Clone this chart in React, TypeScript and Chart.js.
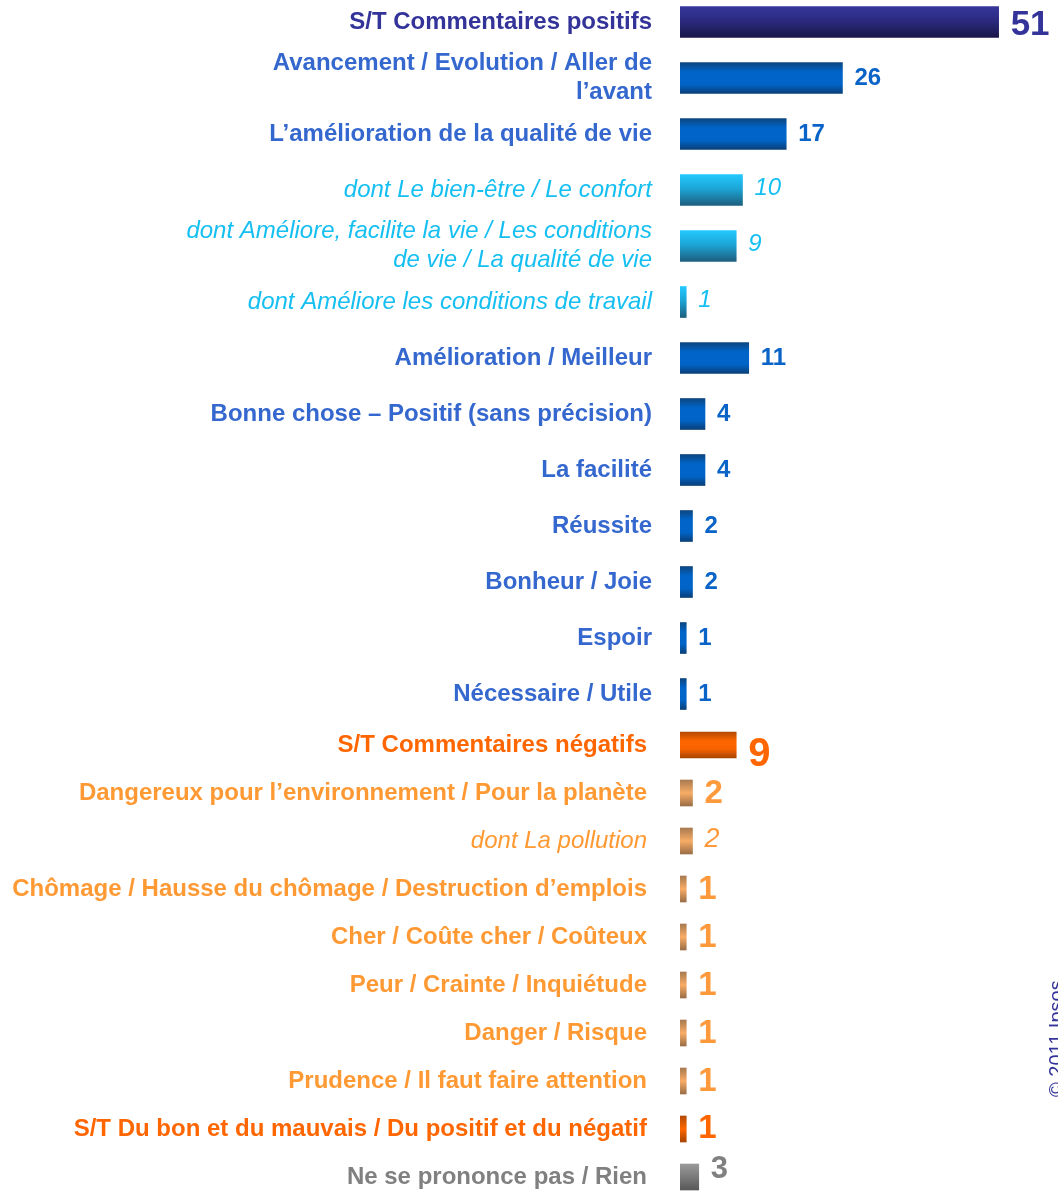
import React, { useEffect, useRef } from "react";
import { Chart, registerables } from "chart.js";

Chart.register(...registerables);

const FONT = '"Liberation Sans", Arial, Helvetica, sans-serif';

// ---- data ----
const posCategories = [
  "S/T Commentaires positifs",
  "Avancement / Evolution / Aller de\nl’avant",
  "L’amélioration de la qualité de vie",
  "dont Le bien-être / Le confort",
  "dont Améliore, facilite la vie / Les conditions\nde vie / La qualité de vie",
  "dont Améliore les conditions de travail",
  "Amélioration / Meilleur",
  "Bonne chose – Positif (sans précision)",
  "La facilité",
  "Réussite",
  "Bonheur / Joie",
  "Espoir",
  "Nécessaire / Utile",
];
const posValues = [51, 26, 17, 10, 9, 1, 11, 4, 4, 2, 2, 1, 1];
const posKinds = ["total", "main", "main", "sub", "sub", "sub", "main", "main", "main", "main", "main", "main", "main"];

const negCategories = [
  "S/T Commentaires négatifs",
  "Dangereux pour l’environnement / Pour la planète",
  "dont La pollution",
  "Chômage / Hausse du chômage / Destruction d’emplois",
  "Cher / Coûte cher / Coûteux",
  "Peur / Crainte / Inquiétude",
  "Danger / Risque",
  "Prudence / Il faut faire attention",
  "S/T Du bon et du mauvais / Du positif et du négatif",
  "Ne se prononce pas / Rien",
];
const negValues = [9, 2, 2, 1, 1, 1, 1, 1, 1, 3];
const negKinds = ["negTotal", "neg", "negSub", "neg", "neg", "neg", "neg", "neg", "mixed", "none"];

const X_MAX = 60.5;
const COPYRIGHT = "© 2011 Ipsos";

// ---- styles ----
type KindStyle = {
  labelColor: string;
  labelBold: boolean;
  labelItalic: boolean;
  valueColor: string;
  valueSize: number;
  valueBold: boolean;
  valueItalic: boolean;
  valueDy: number;
  stops: [number, string][];
};

const STYLES: Record<string, KindStyle> = {
  total: {
    labelColor: "#333399", labelBold: true, labelItalic: false,
    valueColor: "#333399", valueSize: 35, valueBold: true, valueItalic: false, valueDy: 3,
    stops: [[0, "#36369c"], [0.45, "#2b2a80"], [1, "#1a1848"]],
  },
  main: {
    labelColor: "#3568cf", labelBold: true, labelItalic: false,
    valueColor: "#0a64c8", valueSize: 24, valueBold: true, valueItalic: false, valueDy: 0,
    stops: [[0, "#0d4680"], [0.3, "#0064c8"], [0.7, "#0064c8"], [1, "#0a3f78"]],
  },
  sub: {
    labelColor: "#15bff2", labelBold: false, labelItalic: true,
    valueColor: "#15bff2", valueSize: 24, valueBold: false, valueItalic: true, valueDy: -2,
    stops: [[0, "#24c8ff"], [0.45, "#1ca6d6"], [1, "#1d5f7e"]],
  },
  negTotal: {
    labelColor: "#ff6600", labelBold: true, labelItalic: false,
    valueColor: "#ff6600", valueSize: 40, valueBold: true, valueItalic: false, valueDy: 10,
    stops: [[0, "#b34a00"], [0.35, "#ff6600"], [0.65, "#f86300"], [1, "#a84400"]],
  },
  neg: {
    labelColor: "#ff9933", labelBold: true, labelItalic: false,
    valueColor: "#ff9a3c", valueSize: 33, valueBold: true, valueItalic: false, valueDy: 1,
    stops: [[0, "#a87a50"], [0.5, "#f8ac66"], [1, "#9a6e46"]],
  },
  negSub: {
    labelColor: "#ff9933", labelBold: false, labelItalic: true,
    valueColor: "#ff9a3c", valueSize: 27, valueBold: false, valueItalic: true, valueDy: -2,
    stops: [[0, "#a87a50"], [0.5, "#f8ac66"], [1, "#9a6e46"]],
  },
  mixed: {
    labelColor: "#ff6600", labelBold: true, labelItalic: false,
    valueColor: "#ff6600", valueSize: 33, valueBold: true, valueItalic: false, valueDy: 0,
    stops: [[0, "#b34a00"], [0.5, "#ff6600"], [1, "#a84400"]],
  },
  none: {
    labelColor: "#808080", labelBold: true, labelItalic: false,
    valueColor: "#808080", valueSize: 31, valueBold: true, valueItalic: false, valueDy: -8,
    stops: [[0, "#9a9a9a"], [0.5, "#7a7a7a"], [1, "#585858"]],
  },
};

function makeGradientFn(kinds: string[], thickness: number) {
  return (c: any) => {
    const chart = c.chart;
    const ys = chart.scales && chart.scales.y;
    if (c.dataIndex == null || !ys) return "#0064c8";
    const st = STYLES[kinds[c.dataIndex]];
    const mid = ys.getPixelForValue(c.dataIndex);
    if (!isFinite(mid)) return st.stops[1][1];
    const g = chart.ctx.createLinearGradient(0, mid - thickness / 2, 0, mid + thickness / 2);
    st.stops.forEach(([o, col]) => g.addColorStop(o, col));
    return g;
  };
}

function valueLabelPlugin(values: number[], kinds: string[]) {
  return {
    id: "valueLabels",
    afterDatasetsDraw(chart: any) {
      const ctx = chart.ctx;
      const meta = chart.getDatasetMeta(0);
      ctx.save();
      ctx.textAlign = "left";
      ctx.textBaseline = "middle";
      meta.data.forEach((bar: any, i: number) => {
        const st = STYLES[kinds[i]];
        ctx.font = `${st.valueItalic ? "italic " : ""}${st.valueBold ? "bold " : ""}${st.valueSize}px ${FONT}`;
        ctx.fillStyle = st.valueColor;
        ctx.fillText(String(values[i]), bar.x + 12, bar.y + st.valueDy);
      });
      ctx.restore();
    },
  };
}

const copyrightPlugin = {
  id: "copyright",
  afterDraw(chart: any) {
    const ctx = chart.ctx;
    ctx.save();
    ctx.translate(1063, 376);
    ctx.rotate(-Math.PI / 2);
    ctx.font = `20px ${FONT}`;
    ctx.fillStyle = "#333399";
    ctx.textAlign = "left";
    ctx.textBaseline = "alphabetic";
    ctx.fillText(COPYRIGHT, 0, 0);
    ctx.restore();
  },
};

function buildConfig(categories: string[], values: number[], kinds: string[], thickness: number, pad: number, extraPlugins: any[]) {
  return {
    type: "bar" as const,
    data: {
      labels: categories.map((s) => s.split("\n")),
      datasets: [
        {
          data: values,
          backgroundColor: makeGradientFn(kinds, thickness),
          borderWidth: 0,
          barThickness: thickness,
        },
      ],
    },
    options: {
      indexAxis: "y" as const,
      animation: false as const,
      responsive: false,
      maintainAspectRatio: false,
      events: [],
      layout: { padding: 0 },
      plugins: { legend: { display: false }, tooltip: { enabled: false } },
      scales: {
        x: { display: false, min: 0, max: X_MAX },
        y: {
          grid: { display: false, drawTicks: false },
          border: { display: false },
          afterFit: (s: any) => {
            s.width = 680;
            s.paddingTop = 0;
            s.paddingBottom = 0;
          },
          ticks: {
            autoSkip: false,
            padding: pad,
            color: (c: any) => STYLES[kinds[c.index]].labelColor,
            font: (c: any) => {
              const st = STYLES[kinds[c.index]];
              return {
                family: FONT,
                size: 24,
                weight: st.labelBold ? "bold" : "normal",
                style: st.labelItalic ? "italic" : "normal",
                lineHeight: 1.2,
              };
            },
          },
        },
      },
    },
    plugins: [valueLabelPlugin(values, kinds), ...extraPlugins],
  };
}

export default function App() {
  const posRef = useRef<HTMLCanvasElement>(null);
  const negRef = useRef<HTMLCanvasElement>(null);

  useEffect(() => {
    const c1 = new Chart(posRef.current as HTMLCanvasElement, buildConfig(posCategories, posValues, posKinds, 31, 28, []) as any);
    const c2 = new Chart(negRef.current as HTMLCanvasElement, buildConfig(negCategories, negValues, negKinds, 26, 33, [copyrightPlugin]) as any);
    return () => {
      c1.destroy();
      c2.destroy();
    };
  }, []);

  return (
    <div style={{ position: "absolute", left: 0, top: 0, width: 1058, height: 1191, overflow: "hidden", background: "#ffffff" }}>
      <canvas ref={posRef} width={1058} height={728} style={{ position: "absolute", left: 0, top: -6, width: 1058, height: 728 }} />
      <canvas ref={negRef} width={1058} height={480} style={{ position: "absolute", left: 0, top: 721, width: 1058, height: 480 }} />
    </div>
  );
}
